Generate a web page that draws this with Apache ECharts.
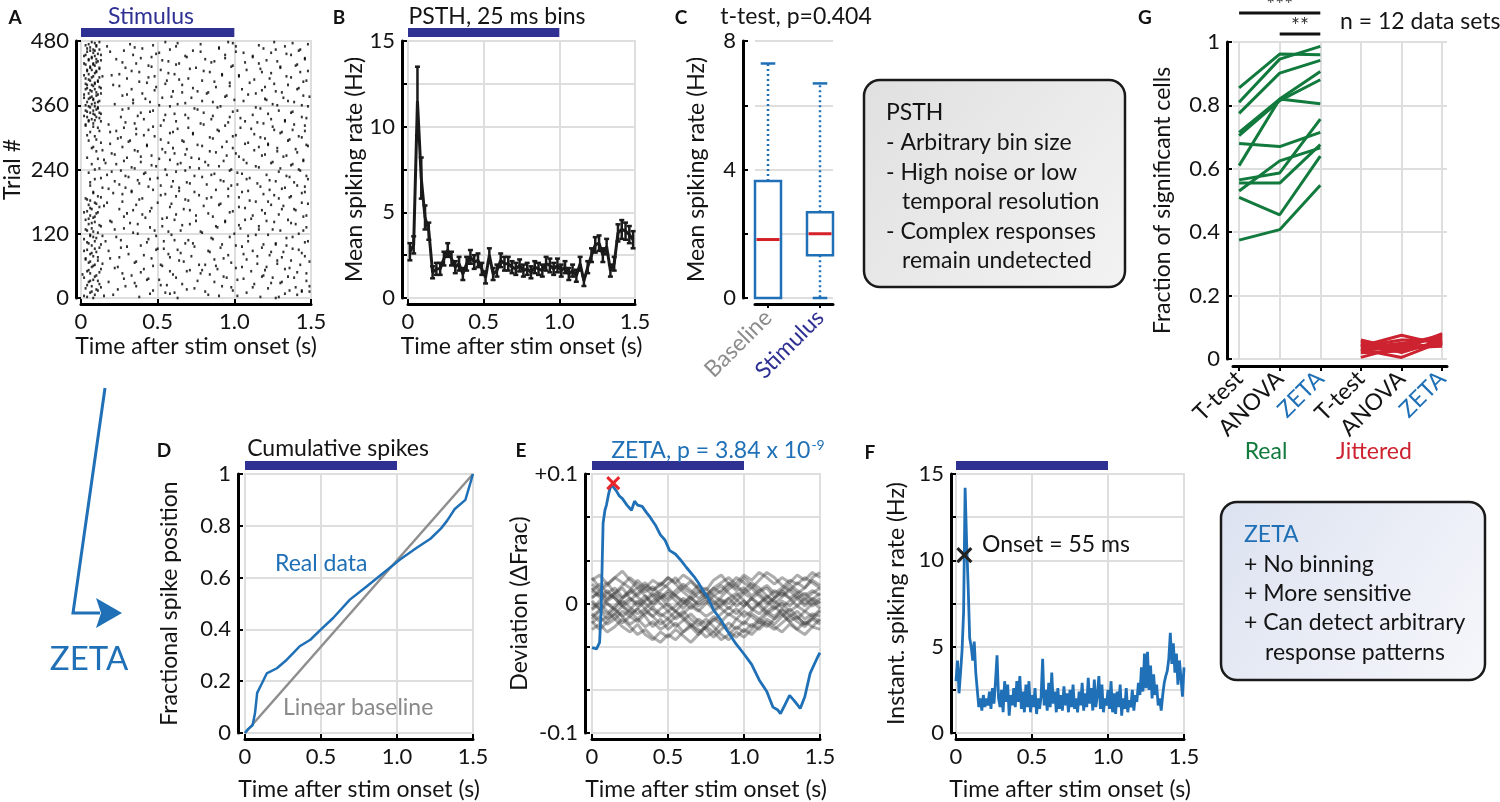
<!DOCTYPE html>
<html><head><meta charset="utf-8">
<script src="https://cdn.jsdelivr.net/npm/echarts@6/dist/echarts.min.js"></script>
<style>html,body{margin:0;padding:0;background:#fff}#c{width:1500px;height:802px}</style>
</head><body><div id="c"></div><script>
// ---------------- DATA ----------------
const stimOn = 0, stimOff = 1.0;
// A: raster, each row = [trial, spike times (s)...]
const rasterRows = [
[2,0.04,0.38,1.17,1.29],[6,0.09,0.21,0.83,1.41],[10,0.06,0.55,0.61,1.08],[14,0.11,0.47,0.99,1.36,1.44],[18,0.03,0.74,1.22],
[22,0.07,0.29,0.36,0.92,1.49],[26,0.12,0.66,1.13],[30,0.05,0.18,0.87,1.31],[34,0.08,0.43,0.51,1.02],[38,0.02,0.62,0.95,1.25,1.39],
[42,0.10,0.33,1.19],[46,0.06,0.27,0.78,1.47],[50,0.04,0.58,0.69,1.11],[54,0.13,0.41,0.89,1.33],[58,0.07,0.24,1.05,1.21],
[62,0.09,0.52,0.77,0.81,1.43],[66,0.05,0.35,0.98],[70,0.11,0.64,1.28,1.37],[74,0.03,0.19,0.46,0.93],[78,0.08,0.72,1.15,1.46],
[82,0.06,0.31,0.57,1.06],[86,0.10,0.84,1.24,1.32],[90,0.04,0.49,0.63,1.42],[94,0.12,0.26,0.91,1.18],[98,0.07,0.39,1.01,1.34],
[102,0.05,0.68,0.73,1.27],[106,0.09,0.16,0.54,1.09,1.48],[110,0.02,0.44,0.86],[114,0.08,0.23,0.97,1.38],[118,0.06,0.59,1.14,1.22],
[122,0.11,0.34,0.79],[126,0.04,0.48,0.65,1.30,1.45],[130,0.07,0.28,1.04],[134,0.13,0.53,0.88,1.16],[138,0.05,0.37,0.71,1.40],
[142,0.09,0.20,0.94,1.26],[146,0.03,0.61,1.07,1.35],[150,0.08,0.42,0.56],[154,0.06,0.75,1.12,1.47],[158,0.10,0.30,0.83,1.20],
[162,0.04,0.45,0.99],[166,0.07,0.25,0.67,1.31,1.39],[170,0.12,0.58,1.03],[174,0.05,0.36,0.90,1.24],[178,0.09,0.17,0.50,1.44],
[182,0.06,0.70,1.10],[186,0.03,0.40,0.82,1.29],[190,0.11,0.62,0.96,1.37],[194,0.27,0.55,1.19],[198,0.08,0.33,0.74,1.05,1.46],
[202,0.47,0.88,1.23],[206,0.14,0.29,0.64,1.33],[210,0.06,0.52,0.98,1.41],[214,0.38,0.71,1.15],[218,0.22,0.60,0.93,1.27],
[222,0.09,0.45,1.08,1.48],[226,0.31,0.79,1.36],[230,0.17,0.56,0.85,1.21],[234,0.05,0.42,1.02],[238,0.26,0.68,0.97,1.43],
[242,0.12,0.35,0.77,1.30],[246,0.49,0.90,1.14],[250,0.07,0.23,0.63,1.38],[254,0.39,0.81,1.25],[258,0.15,0.58,1.06,1.45],
[262,0.04,0.30,0.72],[266,0.46,0.95,1.18,1.34],[270,0.20,0.61,1.01],[274,0.10,0.37,0.84,1.28],[278,0.53,0.69,1.40],
[282,0.08,0.27,0.92,1.16],[286,0.43,0.76,1.22,1.47],[290,0.13,0.57,1.09],[294,0.05,0.32,0.66,1.35],[298,0.24,0.86,1.20],
[302,0.09,0.48,0.99,1.42],[306,0.36,0.73,1.13],[310,0.06,0.19,0.60,1.31],[314,0.44,0.89,1.26,1.38],[318,0.11,0.28,0.70,1.04],
[322,0.03,0.52,0.94,1.46],[326,0.08,0.35,0.78,1.19],[330,0.05,0.13,0.62,1.07,1.33],[334,0.07,0.41,0.85,1.24],[338,0.04,0.10,0.26,0.97,1.44],
[342,0.09,0.55,0.68,1.12],[346,0.06,0.12,0.39,0.80,1.37],[350,0.03,0.08,0.47,1.02,1.29],[354,0.11,0.31,0.74,1.17],[358,0.05,0.09,0.58,0.91,1.48],
[362,0.07,0.22,0.63,1.25],[366,0.04,0.11,0.45,0.86,1.39],[370,0.08,0.34,1.00,1.21],[374,0.02,0.06,0.53,0.72,1.32],[378,0.10,0.27,0.95,1.45],
[382,0.05,0.13,0.40,0.82,1.14],[386,0.07,0.60,0.76,1.27],[390,0.03,0.09,0.33,1.05,1.41],[394,0.12,0.49,0.88,1.20],[398,0.04,0.07,0.21,0.66,1.35],
[402,0.09,0.43,0.97,1.10],[406,0.06,0.11,0.56,0.79,1.47],[410,0.03,0.30,0.70,1.23],[414,0.08,0.14,0.48,1.03,1.34],[418,0.05,0.25,0.61,0.92],
[422,0.10,0.38,0.84,1.18,1.43],[426,0.04,0.07,0.52,1.08],[430,0.06,0.12,0.29,0.75,1.30],[434,0.09,0.44,0.99,1.40],[438,0.02,0.08,0.36,0.64,1.16],
[442,0.11,0.57,0.87,1.28],[446,0.05,0.10,0.23,0.81,1.46],[450,0.07,0.46,0.69,1.12],[454,0.03,0.13,0.34,0.94,1.37],[458,0.08,0.51,1.06,1.24],
[462,0.06,0.09,0.28,0.73,1.42],[466,0.04,0.40,0.90,1.19],[470,0.10,0.17,0.62,1.01,1.33],[474,0.05,0.32,0.78,1.48],[478,0.07,0.12,0.55,0.96,1.26],
[0,0.08,0.63,1.27],[4,0.02,0.15,0.90,1.02],[8,0.45,0.58,1.33],[12,0.07,0.81,1.44,1.49],[16,0.10,0.24,0.69],
[20,0.13,0.98,1.12,1.40],[24,0.04,0.52,0.56],[28,0.35,1.24,1.30],[32,0.06,0.11,0.76,1.47],[36,0.28,0.44,1.06],
[40,0.09,0.93,1.18,1.35],[44,0.01,0.60,0.84],[48,0.12,0.39,1.41],[52,0.05,0.71,0.79,1.20],[56,0.22,1.01,1.36],
[60,0.08,0.47,0.53,0.88],[64,0.14,1.15,1.28],[68,0.06,0.36,0.67,1.49],[72,0.03,0.87,1.08],[76,0.11,0.25,0.58,1.31],
[80,0.41,0.96,1.23],[84,0.07,0.65,1.44],[88,0.02,0.18,0.83,1.12],[92,0.09,0.50,0.54,1.38],[96,0.30,0.74,1.05],
[100,0.13,0.92,1.19,1.27],[104,0.04,0.43,1.46],[108,0.26,0.61,0.70],[112,0.10,0.85,1.34],[116,0.06,0.14,0.49,1.09],
[120,0.37,1.00,1.42],[124,0.08,0.57,0.78],[128,0.03,0.22,1.16,1.25],[132,0.45,0.89,1.47],[136,0.12,0.66,1.03],
[140,0.07,0.32,1.37],[144,0.19,0.75,0.94,1.21],[148,0.05,0.53,1.11],[152,0.09,0.28,0.86,1.45],[156,0.40,0.62,1.29],
[160,0.02,0.11,0.97],[164,0.34,0.71,1.18,1.40],[168,0.06,0.46,1.07],[172,0.15,0.80,1.32],[176,0.10,0.59,0.91,1.48],
[180,0.27,1.14,1.22],[184,0.04,0.38,0.68],[188,0.13,0.85,1.03,1.36],[192,0.52,0.77,1.26],[196,0.08,0.21,1.44],
[200,0.33,0.64,1.09],[204,0.18,0.96,1.31],[208,0.44,0.59,1.17,1.46],[212,0.25,0.82,1.02],[216,0.06,0.69,1.39],
[220,0.37,0.91,1.23],[224,0.13,0.50,1.10],[228,0.29,0.74,1.34,1.47],[232,0.41,0.87,1.05],[236,0.20,0.62,1.29],
[240,0.09,0.55,0.98,1.42],[244,0.33,0.71,1.16],[248,0.46,0.83,1.37],[252,0.16,0.65,1.08,1.24],[256,0.28,0.93,1.45],
[260,0.11,0.51,0.77],[264,0.39,1.03,1.32],[268,0.22,0.68,1.20],[272,0.55,0.88,1.41],[276,0.14,0.35,1.13],
[280,0.07,0.60,0.99,1.28],[284,0.43,0.79,1.48],[288,0.19,1.07,1.22],[292,0.31,0.67,0.95],[296,0.10,0.52,1.36],
[300,0.26,0.84,1.17,1.44],[304,0.04,0.41,1.01],[308,0.58,0.73,1.30],[312,0.12,0.23,0.90,1.46],[316,0.36,0.63,1.11],
[320,0.08,0.47,1.25],[324,0.03,0.18,0.80,1.39],[328,0.29,0.96,1.15],[332,0.05,0.09,0.54,1.33],[336,0.12,0.70,1.04,1.47],
[340,0.02,0.37,0.86],[344,0.08,0.13,0.61,1.22],[348,0.04,0.45,0.99,1.38],[352,0.10,0.27,0.76],[356,0.06,0.11,0.89,1.14],
[360,0.03,0.51,1.28,1.44],[364,0.09,0.34,0.68],[368,0.12,0.79,1.06,1.35],[372,0.05,0.08,0.42,1.20],[376,0.07,0.59,0.94,1.49],
[380,0.02,0.11,0.30,1.09],[384,0.10,0.66,0.83,1.31],[388,0.06,0.48,1.18],[392,0.04,0.13,0.73,1.42],[396,0.08,0.25,0.97],
[400,0.03,0.09,0.55,1.26],[404,0.11,0.38,0.87,1.45],[408,0.05,0.64,1.13],[412,0.07,0.12,0.44,1.37],[416,0.02,0.20,0.92,1.03],
[420,0.09,0.57,1.24],[424,0.04,0.10,0.33,0.80,1.48],[428,0.12,0.71,1.17],[432,0.06,0.46,0.98,1.30],[436,0.03,0.08,0.62,1.41],
[440,0.10,0.27,0.85,1.07],[444,0.05,0.13,0.53,1.21],[448,0.07,0.39,0.94,1.46],[452,0.02,0.09,0.68,1.12],[456,0.11,0.49,1.34],
[460,0.04,0.19,0.78,1.01],[464,0.08,0.12,0.58,1.27,1.43],[468,0.06,0.35,0.90],[472,0.03,0.10,0.47,1.16],[476,0.09,0.63,0.99,1.38]
];
// B: PSTH, 25 ms bins
const psthBinWidth = 0.025;
const psthRate = [2.7,3.1,11.5,7.0,4.7,3.9,
1.5,1.7,1.7,2.3,2.8,2.3,1.8,2.0,1.4,2.0,
2.4,2.1,2.2,1.7,1.2,2.5,1.4,1.6,2.2,2.0,
2.0,1.8,1.7,1.9,1.6,1.7,1.5,1.8,1.7,1.6,
2.0,1.9,1.7,1.9,1.6,1.8,1.4,1.6,1.3,2.0,
1.0,1.8,2.5,3.1,3.2,2.5,3.0,1.6,2.0,3.8,4.0,3.9,3.7,3.4];
const psthErr = [0.5,0.5,2.0,1.2,0.7,0.5,
0.35,0.35,0.35,0.4,0.4,0.4,0.35,0.4,0.35,0.4,
0.4,0.4,0.4,0.35,0.35,0.4,0.35,0.35,0.4,0.4,
0.4,0.35,0.35,0.35,0.35,0.35,0.35,0.35,0.35,0.35,
0.4,0.4,0.35,0.4,0.35,0.35,0.35,0.35,0.35,0.4,
0.3,0.35,0.4,0.45,0.45,0.4,0.45,0.35,0.4,0.5,0.55,0.5,0.5,0.5];
// C: box plot stats [x, min, q1, median, q3, max]
const boxCategories = ['Baseline','Stimulus'];
const boxStats = [[1,0,0,1.82,3.64,7.3],[2,0,1.33,2.0,2.67,6.68]];
// G: fraction of significant cells
const methodLabels = ['T-test','ANOVA','ZETA','T-test','ANOVA','ZETA'];
const realTtest = [0.855,0.81,0.775,0.715,0.705,0.61,0.68,0.565,0.555,0.53,0.51,0.375];
const realAnova = [0.962,0.946,0.902,0.82,0.815,0.82,0.67,0.587,0.555,0.625,0.455,0.408];
const realZeta  = [0.96,0.986,0.942,0.907,0.881,0.805,0.715,0.757,0.676,0.666,0.64,0.548];
const jitTtest = [0.055,0.05,0.045,0.04,0.035,0.03,0.03,0.025,0.02,0.04,0.06,0.005];
const jitAnova = [0.02,0.04,0.03,0.075,0.05,0.035,0.005,0.045,0.025,0.06,0.03,0.04];
const jitZeta  = [0.06,0.07,0.05,0.045,0.065,0.04,0.055,0.075,0.05,0.06,0.08,0.045];
const sigBrackets = [[1,3],[2,3]];
const sigLabels = ['***','**'];
// D: cumulative spikes
const cumT    = [0,0.02,0.05,0.066,0.08,0.11,0.143,0.21,0.275,0.32,0.36,0.43,0.5,0.58,0.69,0.8,0.91,1.02,1.13,1.22,1.29,1.33,1.38,1.45,1.5];
const cumFrac = [0,0.015,0.03,0.077,0.155,0.19,0.23,0.25,0.283,0.31,0.335,0.36,0.4,0.444,0.515,0.566,0.618,0.67,0.715,0.75,0.79,0.82,0.865,0.9,1.0];
const linT = [0,1.5], linFrac = [0,1];
// E: deviation
const zetaT = [0,0.03,0.05,0.06,0.073,0.085,0.095,0.11,0.127,0.14,0.16,0.18,0.2,0.23,0.26,0.28,0.3,0.33,0.36,0.38,0.42,0.45,0.48,0.51,0.55,0.58,0.62,0.67,0.7,0.73,0.76,0.8,0.85,0.89,0.94,1.0,1.05,1.1,1.15,1.19,1.22,1.24,1.27,1.3,1.33,1.37,1.4,1.435,1.47,1.49,1.5];
const zetaDev = [-0.034,-0.035,-0.03,-0.005,0.062,0.072,0.076,0.085,0.092,0.093,0.087,0.083,0.081,0.076,0.072,0.079,0.076,0.075,0.07,0.067,0.06,0.053,0.049,0.041,0.038,0.034,0.028,0.021,0.016,0.01,0.005,-0.005,-0.013,-0.021,-0.03,-0.039,-0.047,-0.059,-0.068,-0.08,-0.082,-0.085,-0.078,-0.071,-0.075,-0.081,-0.072,-0.054,-0.045,-0.04,-0.038];
const zetaPeak = [0.14, 0.093];
const nullStep = 0.05;
const nullDev = [
[0.01,0.015,0.008,0.012,0.005,0.01,0.018,0.012,0.006,0.01,0.015,0.02,0.012,0.008,0.014,0.01,0.018,0.022,0.015,0.01,0.012,0.006,0.01,0.014,0.008,0.012,0.018,0.015,0.02,0.016,0.012],
[-0.01,-0.005,-0.012,-0.008,-0.015,-0.01,-0.004,-0.01,-0.018,-0.012,-0.02,-0.015,-0.022,-0.018,-0.012,-0.016,-0.01,-0.014,-0.008,-0.012,-0.006,-0.01,-0.015,-0.008,-0.012,-0.005,-0.01,-0.006,-0.012,-0.008,-0.01],
[0.02,0.012,0.016,0.008,0.012,0.004,0.0,0.006,-0.002,0.004,0.008,0.002,-0.004,0.003,0.008,0.012,0.006,0.01,0.016,0.012,0.02,0.014,0.009,0.012,0.005,0.01,0.004,0.008,0.012,0.018,0.014],
[-0.005,0.0,-0.006,-0.012,-0.018,-0.022,-0.016,-0.024,-0.028,-0.022,-0.026,-0.02,-0.025,-0.03,-0.024,-0.018,-0.022,-0.015,-0.02,-0.012,-0.016,-0.008,-0.012,-0.006,-0.01,-0.004,-0.008,-0.012,-0.006,-0.01,-0.005],
[0.005,0.008,0.002,0.006,0.0,0.004,-0.002,0.003,0.008,0.004,0.01,0.006,0.0,0.005,-0.002,0.002,-0.005,0.0,0.004,-0.002,0.002,-0.004,0.0,0.006,0.002,-0.003,0.002,0.006,0.0,0.004,0.0],
[0.015,0.01,0.004,0.008,0.014,0.02,0.015,0.009,0.013,0.006,0.002,0.007,0.012,0.017,0.011,0.006,0.0,0.005,0.011,0.016,0.022,0.018,0.024,0.02,0.015,0.02,0.016,0.022,0.018,0.024,0.02],
[-0.015,-0.01,-0.016,-0.012,-0.006,-0.01,-0.014,-0.008,-0.003,-0.008,-0.012,-0.018,-0.013,-0.008,-0.014,-0.02,-0.026,-0.02,-0.015,-0.02,-0.014,-0.018,-0.012,-0.016,-0.02,-0.015,-0.01,-0.014,-0.018,-0.012,-0.016],
[0.0,-0.004,0.003,0.008,0.004,0.01,0.005,0.0,-0.005,-0.01,-0.006,-0.012,-0.008,-0.002,-0.006,0.0,0.006,0.002,-0.004,0.002,0.008,0.004,-0.002,-0.008,-0.004,0.002,-0.002,0.004,0.008,0.002,-0.004],
[0.01,0.005,0.0,-0.004,0.002,-0.003,-0.008,-0.004,0.002,0.008,0.004,0.01,0.015,0.01,0.004,0.008,0.002,-0.004,-0.009,-0.004,-0.01,-0.006,0.0,0.004,0.01,0.006,0.012,0.008,0.003,0.008,0.012],
[-0.008,-0.014,-0.01,-0.004,-0.01,-0.016,-0.012,-0.018,-0.014,-0.02,-0.016,-0.01,-0.006,-0.012,-0.017,-0.012,-0.018,-0.024,-0.028,-0.022,-0.026,-0.02,-0.014,-0.018,-0.012,-0.008,-0.014,-0.01,-0.016,-0.012,-0.006],
[0.004,0.01,0.014,0.02,0.016,0.012,0.006,0.012,0.018,0.014,0.02,0.015,0.009,0.004,0.0,0.004,-0.002,0.003,0.0,0.006,0.01,0.016,0.012,0.006,0.0,0.005,0.01,0.004,-0.002,0.003,0.008],
[-0.012,-0.006,0.0,-0.005,-0.01,-0.005,0.002,-0.004,-0.01,-0.016,-0.012,-0.006,-0.01,-0.016,-0.022,-0.018,-0.013,-0.008,-0.003,-0.008,-0.002,0.004,0.0,-0.006,-0.002,-0.008,-0.014,-0.02,-0.014,-0.018,-0.012],
[0.018,0.022,0.015,0.02,0.025,0.018,0.012,0.016,0.01,0.014,0.02,0.016,0.022,0.018,0.012,0.006,0.012,0.008,0.014,0.02,0.016,0.012,0.018,0.024,0.02,0.014,0.01,0.016,0.012,0.02,0.024],
[-0.02,-0.016,-0.022,-0.018,-0.012,-0.018,-0.024,-0.02,-0.026,-0.03,-0.024,-0.028,-0.022,-0.016,-0.02,-0.026,-0.022,-0.028,-0.024,-0.018,-0.022,-0.016,-0.02,-0.014,-0.018,-0.022,-0.016,-0.02,-0.024,-0.018,-0.02],
[0.002,-0.004,-0.008,-0.002,0.004,0.008,0.012,0.006,0.0,0.005,-0.002,-0.006,0.0,0.006,0.01,0.004,0.009,0.014,0.008,0.003,-0.002,0.004,0.008,0.002,-0.004,0.0,-0.006,-0.002,0.004,-0.002,0.002],
[-0.004,0.002,0.008,0.004,-0.002,-0.008,-0.004,0.002,0.006,0.0,-0.006,-0.002,0.004,0.0,-0.005,-0.01,-0.006,-0.002,0.004,0.008,0.002,-0.004,-0.008,-0.002,0.004,0.008,0.004,-0.002,-0.006,0.0,0.004],
[0.012,0.006,0.01,0.004,-0.002,0.002,0.008,0.014,0.01,0.016,0.012,0.006,0.002,-0.004,0.002,0.006,0.012,0.016,0.02,0.014,0.008,0.012,0.006,0.0,0.004,0.01,0.015,0.01,0.006,0.01,0.006],
[-0.014,-0.02,-0.014,-0.008,-0.002,-0.006,-0.012,-0.006,-0.01,-0.004,0.0,-0.006,-0.012,-0.018,-0.024,-0.018,-0.012,-0.016,-0.022,-0.026,-0.02,-0.024,-0.018,-0.012,-0.016,-0.01,-0.004,-0.01,-0.016,-0.01,-0.014]
];
// F: instantaneous rate, 10 ms steps
const rateStep = 0.01;
const instRate = [3.0,4.2,2.3,3.5,4.8,7.0,14.2,11.0,8.5,5.5,5.0,4.2,5.3,3.5,2.5,1.5,2.0,1.3,2.2,1.5,
2.0,1.6,2.4,1.4,2.6,1.7,3.0,4.5,2.0,1.5,
2.5,1.2,3.0,1.8,2.8,1.0,2.2,1.6,2.6,1.5,
3.0,1.8,3.3,1.4,2.4,1.2,2.8,1.5,3.0,1.2,
2.2,1.5,2.6,1.1,2.0,1.4,2.1,4.3,1.6,2.5,
1.3,2.9,1.5,3.5,1.7,2.4,1.2,2.6,1.4,2.2,
1.3,2.7,1.6,2.3,1.2,2.5,1.5,2.8,1.4,2.0,
1.2,2.4,1.6,2.9,1.3,2.3,1.5,3.2,1.7,2.6,
1.3,3.1,1.5,2.2,3.3,1.4,2.8,1.2,2.0,1.6,
2.5,1.4,3.0,1.2,2.3,1.1,2.4,1.5,2.8,1.0,
2.0,1.4,2.6,1.2,1.9,1.5,2.5,1.3,2.2,1.8,
2.9,2.2,3.8,2.4,4.6,2.6,4.7,2.5,3.9,2.0,
3.4,2.2,2.8,1.6,2.0,1.3,2.2,2.9,3.3,3.6,
4.3,5.8,4.0,5.2,3.5,4.6,2.8,4.2,3.2,2.1,
3.8];
const onsetPoint = [0.055, 10.3];
// text
const psthNotes = ['PSTH','- Arbitrary bin size','- High noise or low','temporal resolution','- Complex responses','remain undetected'];
const psthIndent = [0,0,0,1,0,1];
const zetaNotes = ['ZETA','+ No binning','+ More sensitive','+ Can detect arbitrary','response patterns'];
const zetaIndent = [0,0,0,0,1];

// ---------------- STYLE ----------------
const FONT = 'Lato, "Open Sans", sans-serif';
const FS = 23, TFS = 22;
const NAVY = '#2e3192', BLUE = '#1f70b6', GREEN = '#127a3d', RED = '#cd2330', GRIDC = '#dedede', INK = '#141414';

function merge(a, b) {
  const out = Object.assign({}, a);
  for (const k in b) {
    const v = b[k];
    if (v && typeof v === 'object' && !Array.isArray(v) && a[k] && typeof a[k] === 'object' && !Array.isArray(a[k])) out[k] = merge(a[k], v);
    else out[k] = v;
  }
  return out;
}
const AX = {
  type: 'value',
  axisLine: { show: true, onZero: false, lineStyle: { color: '#000', width: 3 } },
  axisTick: { show: true, inside: true, length: 5, lineStyle: { color: '#000', width: 2 } },
  axisLabel: { color: INK, fontSize: TFS, fontFamily: FONT, margin: 7 },
  splitLine: { show: true, lineStyle: { color: GRIDC, width: 2 } },
  nameLocation: 'middle',
  nameTextStyle: { color: INK, fontSize: FS, fontFamily: FONT }
};
const ax = o => merge(AX, o);
const timeX = (gi, nameGap) => ax({ gridIndex: gi, min: 0, max: 1.5, interval: 0.5, offset: 6,
  axisLabel: { formatter: v => v === 0 ? '0' : v.toFixed(1) }, name: 'Time after stim onset (s)', nameGap });
const only = list => v => list.some(x => Math.abs(x - v) < 1e-9) ? (Math.abs(v) < 1e-9 ? '0' : String(+v.toFixed(3))) : '';

const gridBox = { show: true, borderColor: GRIDC, borderWidth: 2, backgroundColor: 'transparent' };
const grids = [
  merge(gridBox, { left: 81, top: 41, width: 230, height: 257 }),   // A
  merge(gridBox, { left: 408, top: 41, width: 227, height: 257 }),  // B
  { show: false, left: 755, top: 41, width: 78, height: 257 },      // C
  { show: false, left: 1233, top: 42, width: 214, height: 317 },    // G
  merge(gridBox, { left: 245, top: 474, width: 228, height: 259 }), // D
  merge(gridBox, { left: 592, top: 474, width: 228, height: 259 }), // E
  merge(gridBox, { left: 956, top: 474, width: 228, height: 259 })  // F
];

const xAxes = [
  timeX(0, 31), timeX(1, 31),
  ax({ gridIndex: 2, min: 0.75, max: 2.25, offset: 6, splitLine: { show: false },
       axisTick: { customValues: [1, 2], inside: false, length: 4 },
       axisLabel: { customValues: [1, 2], rotate: 45, margin: 10,
         formatter: v => v === 1 ? '{b|' + boxCategories[0] + '}' : '{s|' + boxCategories[1] + '}',
         rich: { b: { color: '#8c8c8c', fontSize: FS, fontFamily: FONT }, s: { color: NAVY, fontSize: FS, fontFamily: FONT } } } }),
  ax({ gridIndex: 3, min: 0.85, max: 6.12, offset: 7,
       axisTick: { customValues: [1, 2, 3, 4, 5, 6], inside: false, length: 5 },
       axisLabel: { customValues: [1, 2, 3, 4, 5, 6], rotate: 45, margin: 9,
         formatter: v => { const n = methodLabels[Math.round(v) - 1]; return n === 'ZETA' ? '{z|ZETA}' : '{n|' + n + '}'; },
         rich: { z: { color: BLUE, fontSize: FS, fontFamily: FONT }, n: { color: INK, fontSize: FS, fontFamily: FONT } } } }),
  timeX(4, 39), timeX(5, 39), timeX(6, 39)
];
const yAxes = [
  ax({ gridIndex: 0, min: 0, max: 480, interval: 120, offset: 5, name: 'Trial #', nameGap: 52 }),
  ax({ gridIndex: 1, min: 0, max: 15, interval: 2.5, offset: 6, axisLabel: { formatter: only([0, 5, 10, 15]) }, name: 'Mean spiking rate (Hz)', nameGap: 33 }),
  ax({ gridIndex: 2, min: 0, max: 8, interval: 2, offset: 12, axisLabel: { formatter: only([0, 4, 8]) }, name: 'Mean spiking rate (Hz)', nameGap: 35 }),
  ax({ gridIndex: 3, min: 0, max: 1, interval: 0.2, offset: 6, axisLabel: { formatter: v => v === 0 ? '0' : (Math.abs(v - 1) < 1e-9 ? '1' : v.toFixed(1)) }, name: 'Fraction of significant cells', nameGap: 53 }),
  ax({ gridIndex: 4, min: 0, max: 1, interval: 0.2, offset: 7, axisLabel: { formatter: v => v === 0 ? '0' : (Math.abs(v - 1) < 1e-9 ? '1' : v.toFixed(1)) }, name: 'Fractional spike position', nameGap: 57 }),
  ax({ gridIndex: 5, min: -0.1, max: 0.1, interval: 0.1 / 3, offset: 7,
       axisLabel: { formatter: v => Math.abs(v) < 1e-9 ? '0' : (Math.abs(v - 0.1) < 1e-9 ? '+0.1' : (Math.abs(v + 0.1) < 1e-9 ? '-0.1' : '')) },
       name: 'Deviation (\u0394Frac)', nameGap: 38 }),
  ax({ gridIndex: 6, min: 0, max: 15, interval: 2.5, offset: 5, axisLabel: { formatter: only([0, 5, 10, 15]) }, name: 'Instant. spiking rate (Hz)', nameGap: 43 })
];

// ---------------- RENDERERS ----------------
function renderStim(params, api) {
  const a = api.coord([api.value(0), api.value(2)]);
  const b = api.coord([api.value(1), api.value(2)]);
  return { type: 'rect', shape: { x: a[0], y: a[1] - 13, width: b[0] - a[0], height: 9 }, style: { fill: NAVY } };
}
function renderErr(params, api) {
  const t = api.value(0), v = api.value(1), e = api.value(2);
  const lo = api.coord([t, v - e]), hi = api.coord([t, v + e]);
  const w = 2.5, st = { stroke: '#1a1a1a', lineWidth: 2.5 };
  return { type: 'group', children: [
    { type: 'line', shape: { x1: lo[0], y1: lo[1], x2: hi[0], y2: hi[1] }, style: st },
    { type: 'line', shape: { x1: lo[0] - w, y1: lo[1], x2: lo[0] + w, y2: lo[1] }, style: st },
    { type: 'line', shape: { x1: hi[0] - w, y1: hi[1], x2: hi[0] + w, y2: hi[1] }, style: st }
  ] };
}
function renderBox(params, api) {
  const x = api.value(0), mn = api.value(1), q1 = api.value(2), md = api.value(3), q3 = api.value(4), mx = api.value(5);
  const hw = 0.25, cw = 0.14;
  const tl = api.coord([x - hw, q3]), br = api.coord([x + hw, q1]);
  const c = api.coord([x, md]);
  const pMax = api.coord([x, mx]), pMin = api.coord([x, mn]);
  const capL = api.coord([x - cw, mx]), capR = api.coord([x + cw, mx]);
  const capL0 = api.coord([x - cw, mn]), capR0 = api.coord([x + cw, mn]);
  const dash = { stroke: BLUE, lineWidth: 2.5, lineDash: [2, 3] };
  const solid = { stroke: BLUE, lineWidth: 2.5 };
  const kids = [
    { type: 'line', shape: { x1: c[0], y1: tl[1], x2: c[0], y2: pMax[1] }, style: dash },
    { type: 'line', shape: { x1: capL[0], y1: capL[1], x2: capR[0], y2: capR[1] }, style: solid },
    { type: 'rect', shape: { x: tl[0], y: tl[1], width: br[0] - tl[0], height: br[1] - tl[1] }, style: { fill: '#fff', stroke: BLUE, lineWidth: 2.5 } },
    { type: 'line', shape: { x1: tl[0] + 1.5, y1: c[1], x2: br[0] - 1.5, y2: c[1] }, style: { stroke: '#d42027', lineWidth: 3 } }
  ];
  if (q1 > mn) {
    kids.push({ type: 'line', shape: { x1: c[0], y1: br[1], x2: c[0], y2: pMin[1] }, style: dash });
    kids.push({ type: 'line', shape: { x1: capL0[0], y1: capL0[1], x2: capR0[0], y2: capR0[1] }, style: solid });
  }
  return { type: 'group', children: kids };
}
function renderX(color, s, lw) {
  return function (params, api) {
    const p = api.coord([api.value(0), api.value(1)]);
    const st = { stroke: color, lineWidth: lw };
    return { type: 'group', children: [
      { type: 'line', shape: { x1: p[0] - s, y1: p[1] - s, x2: p[0] + s, y2: p[1] + s }, style: st },
      { type: 'line', shape: { x1: p[0] - s, y1: p[1] + s, x2: p[0] + s, y2: p[1] - s }, style: st }
    ] };
  };
}
function renderSig(params, api) {
  const i = params.dataIndex;
  const a = api.coord([api.value(0), 1]), b = api.coord([api.value(1), 1]);
  const y = a[1] - 29 + i * 21;
  return { type: 'group', children: [
    { type: 'line', shape: { x1: a[0], y1: y, x2: b[0], y2: y }, style: { stroke: '#111', lineWidth: 3 } },
    { type: 'text', style: { text: sigLabels[i], x: (a[0] + b[0]) / 2, y: y + 3, align: 'center', verticalAlign: 'bottom', textAlign: 'center', textVerticalAlign: 'bottom', font: '21px ' + FONT, fill: '#333' } }
  ] };
}

// ---------------- SERIES ----------------
const series = [];
const stim = (gi, ymax) => series.push({ type: 'custom', xAxisIndex: gi, yAxisIndex: gi, renderItem: renderStim, clip: false, silent: true, z: 5,
  encode: { x: [0, 1], y: 2 }, data: [[stimOn, stimOff, ymax]] });

// A raster
const rasterPts = [];
rasterRows.forEach(r => { for (let k = 1; k < r.length; k++) rasterPts.push([r[k], r[0]]); });
series.push({ type: 'scatter', xAxisIndex: 0, yAxisIndex: 0, symbol: 'rect', symbolSize: [2, 2.6], itemStyle: { color: '#000' }, silent: true, data: rasterPts });
stim(0, 480);
// B PSTH
const psthPts = psthRate.map((v, i) => [(i + 0.5) * psthBinWidth, v]);
series.push({ type: 'custom', xAxisIndex: 1, yAxisIndex: 1, renderItem: renderErr, silent: true, z: 3,
  encode: { x: 0, y: 1 }, data: psthRate.map((v, i) => [(i + 0.5) * psthBinWidth, v, psthErr[i]]) });
series.push({ type: 'line', xAxisIndex: 1, yAxisIndex: 1, data: psthPts, symbol: 'none', silent: true, z: 4, lineStyle: { color: '#1a1a1a', width: 3 } });
stim(1, 15);
// C boxes
series.push({ type: 'custom', xAxisIndex: 2, yAxisIndex: 2, renderItem: renderBox, silent: true, clip: false, z: 4,
  encode: { x: 0, y: [1, 2, 3, 4, 5] }, data: boxStats });
// G lines
for (let i = 0; i < realTtest.length; i++) {
  series.push({ type: 'line', xAxisIndex: 3, yAxisIndex: 3, symbol: 'none', silent: true, z: 4,
    lineStyle: { color: GREEN, width: 3 }, data: [[1, realTtest[i]], [2, realAnova[i]], [3, realZeta[i]]] });
}
for (let i = 0; i < jitTtest.length; i++) {
  series.push({ type: 'line', xAxisIndex: 3, yAxisIndex: 3, symbol: 'none', silent: true, z: 4,
    lineStyle: { color: RED, width: 3 }, data: [[4, jitTtest[i]], [5, jitAnova[i]], [6, jitZeta[i]]] });
}
series.push({ type: 'custom', xAxisIndex: 3, yAxisIndex: 3, renderItem: renderSig, silent: true, clip: false, z: 6,
  encode: { x: [0, 1] }, data: sigBrackets });
// D
series.push({ type: 'line', xAxisIndex: 4, yAxisIndex: 4, symbol: 'none', silent: true, z: 3,
  lineStyle: { color: '#8e8e8e', width: 2.5 }, data: linT.map((t, i) => [t, linFrac[i]]) });
series.push({ type: 'line', xAxisIndex: 4, yAxisIndex: 4, symbol: 'none', silent: true, z: 4,
  lineStyle: { color: BLUE, width: 2.5 }, data: cumT.map((t, i) => [t, cumFrac[i]]) });
stim(4, 1);
// E
nullDev.forEach(arr => series.push({ type: 'line', xAxisIndex: 5, yAxisIndex: 5, symbol: 'none', silent: true, z: 3,
  lineStyle: { color: 'rgba(60,60,60,0.42)', width: 3 }, data: arr.map((v, i) => [i * nullStep, v]) }));
series.push({ type: 'line', xAxisIndex: 5, yAxisIndex: 5, symbol: 'none', silent: true, z: 4,
  lineStyle: { color: BLUE, width: 2.8 }, data: zetaT.map((t, i) => [t, zetaDev[i]]) });
series.push({ type: 'custom', xAxisIndex: 5, yAxisIndex: 5, renderItem: renderX('#e8262b', 6, 3), silent: true, clip: false, z: 6,
  encode: { x: 0, y: 1 }, data: [zetaPeak] });
stim(5, 0.1);
// F
series.push({ type: 'line', xAxisIndex: 6, yAxisIndex: 6, symbol: 'none', silent: true, z: 4,
  lineStyle: { color: BLUE, width: 2.8 }, data: instRate.map((v, i) => [i * rateStep, v]) });
series.push({ type: 'custom', xAxisIndex: 6, yAxisIndex: 6, renderItem: renderX('#222', 7, 3), silent: true, clip: false, z: 6,
  encode: { x: 0, y: 1 }, data: [onsetPoint] });
stim(6, 15);

// ---------------- GRAPHIC (text, boxes, arrow) ----------------
function txt(text, x, y, o) {
  o = o || {};
  const al = o.al || 'left';
  return { type: 'text', silent: true, z: 100, style: {
    text, x, y, fill: o.fill || INK, font: (o.font || FS + 'px ' + FONT),
    align: al, textAlign: al, verticalAlign: 'middle', textVerticalAlign: 'middle' } };
}
const LB = 'bold 19px ' + FONT;
const g = [];
[['A', 15, 18], ['B', 339, 18], ['C', 681, 18], ['G', 1145, 18], ['D', 164, 451], ['E', 521, 451], ['F', 870, 453]]
  .forEach(l => g.push(txt(l[0], l[1], l[2], { font: LB, al: 'center', fill: '#111' })));
g.push(txt('Stimulus', 151, 17, { al: 'center', fill: NAVY }));
g.push(txt('PSTH, 25 ms bins', 497, 17, { al: 'center' }));
g.push(txt('t-test, p=0.404', 796, 17, { al: 'center' }));
g.push(txt('n = 12 data sets', 1340, 22));
g.push(txt('Cumulative spikes', 338, 449, { al: 'center' }));
g.push({ type: 'text', silent: true, z: 100, style: { text: '{a|ZETA, p = 3.84 x 10}{s|-9}', x: 718, y: 451,
  align: 'center', textAlign: 'center', verticalAlign: 'middle', textVerticalAlign: 'middle',
  rich: { a: { fill: BLUE, color: BLUE, fontSize: FS, fontFamily: FONT, lineHeight: 26 },
          s: { fill: BLUE, color: BLUE, fontSize: 14, fontFamily: FONT, lineHeight: 26, verticalAlign: 'top', padding: [0, 0, 10, 1] } } } });
// PSTH note box
g.push({ type: 'rect', silent: true, z: 90, shape: { x: 864, y: 80, width: 261, height: 207, r: 16 },
  style: { fill: { type: 'linear', x: 0, y: 0, x2: 1, y2: 1, colorStops: [{ offset: 0, color: '#e0e0e0' }, { offset: 1, color: '#f3f3f3' }] }, stroke: '#1a1a1a', lineWidth: 2.5 } });
psthNotes.forEach((s, i) => g.push(txt(s, 886 + psthIndent[i] * 16, 113 + i * 29.6)));
// ZETA note box
g.push({ type: 'rect', silent: true, z: 90, shape: { x: 1221, y: 502, width: 264, height: 178, r: 16 },
  style: { fill: { type: 'linear', x: 0, y: 0, x2: 1, y2: 1, colorStops: [{ offset: 0, color: '#dce2f0' }, { offset: 1, color: '#f6f7fb' }] }, stroke: '#1a1a1a', lineWidth: 2.5 } });
zetaNotes.forEach((s, i) => g.push(txt(s, 1244 + zetaIndent[i] * 21, 535 + i * 29.3, { fill: i === 0 ? BLUE : INK })));
// in-plot labels
g.push(txt('Real data', 275, 564, { fill: BLUE }));
g.push(txt('Linear baseline', 283, 708, { fill: '#8a8a8a' }));
g.push(txt('Onset = 55 ms', 982, 545));
g.push(txt('Real', 1266, 452, { al: 'center', fill: GREEN }));
g.push(txt('Jittered', 1374, 452, { al: 'center', fill: RED }));
// flow arrow
g.push({ type: 'polyline', silent: true, z: 90, shape: { points: [[105, 388], [73, 613], [100, 613]] }, style: { stroke: BLUE, lineWidth: 3, fill: 'none' } });
g.push({ type: 'polygon', silent: true, z: 90, shape: { points: [[96, 598], [122, 613], [96, 628], [101, 613]] }, style: { fill: BLUE } });
g.push(txt('ZETA', 89, 659, { al: 'center', fill: BLUE, font: '33px ' + FONT }));

const option = {
  animation: false,
  backgroundColor: '#fff',
  textStyle: { fontFamily: FONT },
  grid: grids, xAxis: xAxes, yAxis: yAxes, series, graphic: g
};
const chart = echarts.init(document.getElementById('c'), null, { renderer: 'canvas' });
chart.setOption(option);
</script></body></html>
